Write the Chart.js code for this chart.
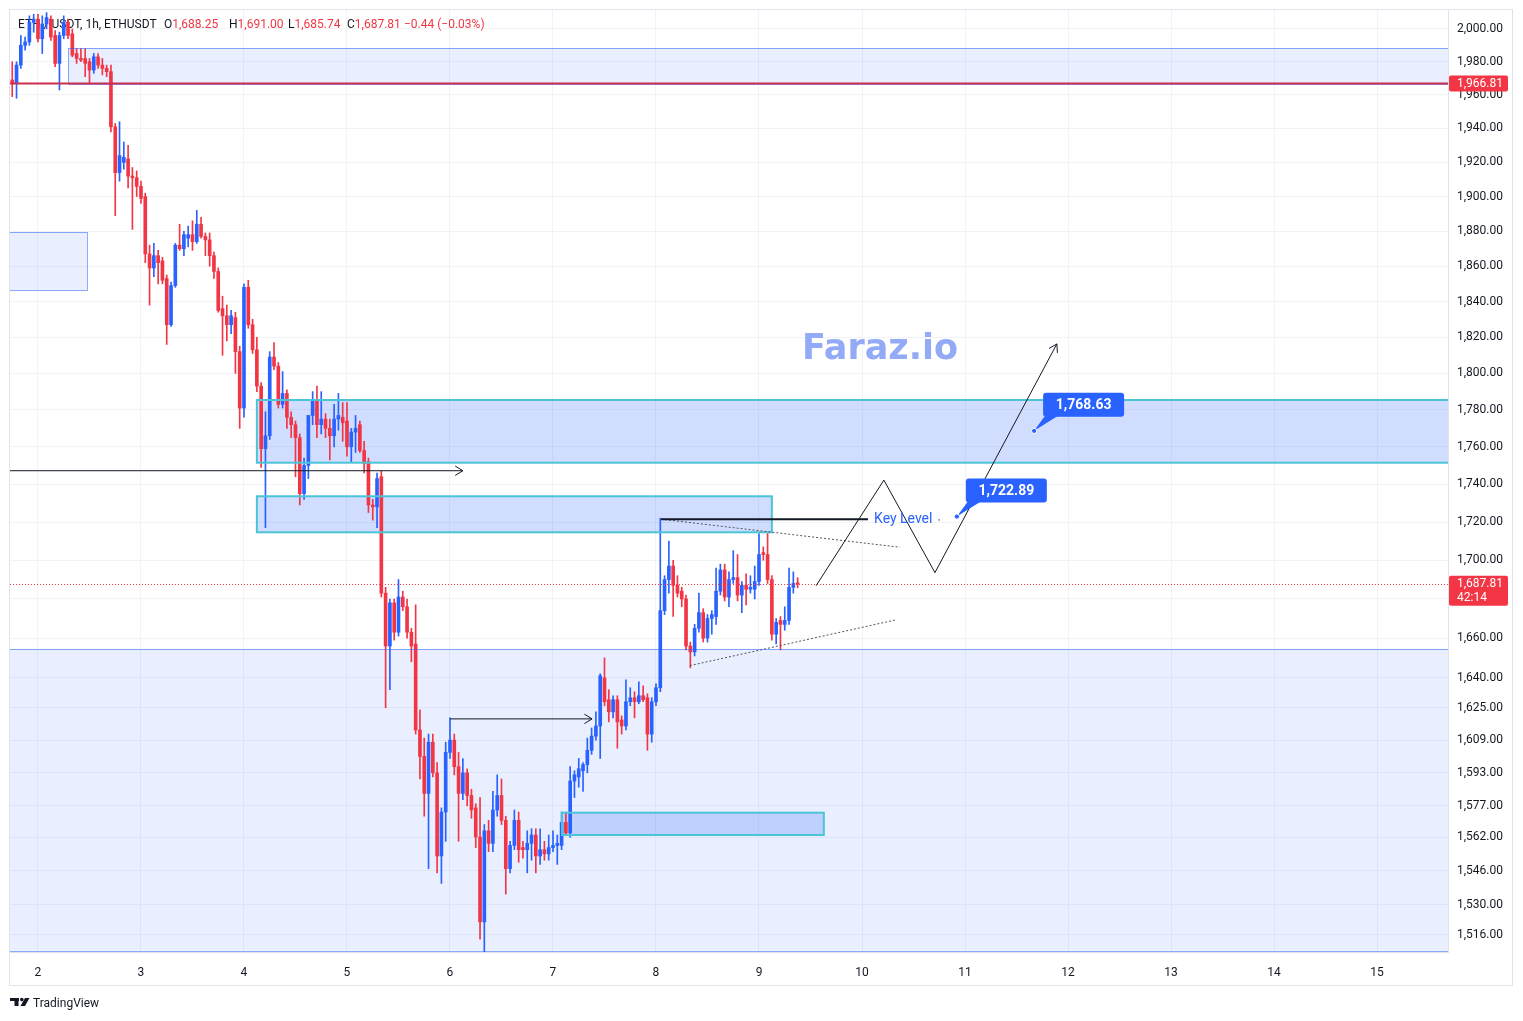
<!DOCTYPE html>
<html>
<head>
<meta charset="utf-8">
<title>ETHUSDT 1h</title>
<script src="https://cdn.jsdelivr.net/npm/chart.js@4.4.1/dist/chart.umd.min.js"></script>
<style>
  html, body { margin: 0; padding: 0; background: #ffffff; }
  canvas { display: block; }
</style>
</head>
<body>
<canvas id="graph" width="1523" height="1021"></canvas>
<script>
// ETH / USDT, 1h candles. Time is counted in hours from day 2, 00:00.
var firstHour = -6;

var openP = [
  1969, 1967, 1978, 1990, 1992, 2004,
  2006, 1994, 2003, 2006, 1996, 1979, 1996, 2004, 1997, 1985, 1982, 1982, 1980, 1975, 1983, 1978, 1976, 1974, 1941, 1914, 1920, 1922, 1912, 1911,
  1906, 1900, 1867, 1859, 1866, 1863, 1853, 1827, 1849, 1872, 1870, 1876, 1878, 1874, 1884, 1877, 1875, 1866, 1857, 1836, 1832, 1827, 1831, 1812,
  1781, 1848, 1827, 1813, 1793, 1759, 1766, 1809, 1804, 1783, 1789, 1776, 1772, 1765, 1735, 1750, 1777, 1785, 1772, 1775, 1770, 1766, 1775, 1776,
  1774, 1760, 1768, 1772, 1758, 1752, 1729, 1728, 1744, 1683, 1656, 1678, 1663, 1681, 1676, 1663, 1657, 1614, 1601, 1583, 1608, 1593, 1553, 1574,
  1603, 1609, 1596, 1583, 1593, 1582, 1576, 1562, 1522, 1565, 1559, 1575, 1582, 1570, 1547, 1558, 1570, 1557, 1556, 1559, 1563, 1553, 1556, 1554,
  1557, 1558, 1558, 1569, 1564, 1589, 1591, 1594, 1597, 1604, 1611, 1616, 1640, 1629, 1623, 1629, 1619, 1616, 1628, 1630, 1628, 1631, 1630, 1612,
  1628, 1635, 1674, 1690, 1697, 1687, 1684, 1680, 1656, 1653, 1665, 1673, 1660, 1670, 1671, 1684, 1695, 1681, 1690, 1691, 1682, 1687, 1685, 1685,
  1689, 1704, 1703, 1690, 1662, 1669, 1667, 1669, 1686, 1688.25
];
var highP = [
  1980, 1980, 1996, 1995, 2008, 2009,
  2009, 2008, 2010, 2008, 1999, 1998, 2008, 2006, 2000, 1988, 1988, 1988, 1982, 1985, 1985, 1982, 1978, 1978, 1943, 1944, 1932, 1930, 1917, 1915,
  1909, 1902, 1872, 1873, 1869, 1865, 1855, 1851, 1873, 1884, 1880, 1883, 1886, 1892, 1888, 1879, 1879, 1868, 1859, 1843, 1838, 1835, 1834, 1815,
  1850, 1852, 1830, 1820, 1795, 1779, 1812, 1817, 1806, 1801, 1791, 1779, 1774, 1767, 1754, 1777, 1790, 1793, 1790, 1778, 1775, 1783, 1789, 1784,
  1784, 1770, 1777, 1774, 1763, 1754, 1732, 1746, 1747, 1686, 1680, 1680, 1690, 1684, 1680, 1665, 1677, 1624, 1610, 1612, 1612, 1598, 1576, 1608,
  1620, 1612, 1603, 1600, 1595, 1585, 1578, 1581, 1568, 1570, 1584, 1592, 1590, 1572, 1560, 1575, 1574, 1560, 1565, 1566, 1566, 1566, 1560, 1563,
  1565, 1563, 1574, 1574, 1596, 1594, 1600, 1598, 1610, 1615, 1623, 1642, 1650, 1634, 1631, 1631, 1621, 1639, 1635, 1633, 1638, 1636, 1632, 1630,
  1637, 1722, 1692, 1710, 1700, 1692, 1686, 1682, 1658, 1667, 1683, 1675, 1672, 1674, 1696, 1698, 1698, 1694, 1705, 1703, 1689, 1693, 1692, 1697,
  1714, 1707, 1714, 1692, 1670, 1671, 1676, 1696, 1694, 1691
];
var lowP = [
  1959, 1958, 1976, 1987, 1990, 1998,
  1992, 1985, 2000, 1993, 1977, 1963, 1994, 1994, 1983, 1979, 1980, 1971, 1967, 1973, 1976, 1972, 1971, 1938, 1889, 1909, 1916, 1905, 1881, 1900,
  1896, 1862, 1838, 1854, 1850, 1850, 1816, 1826, 1848, 1869, 1866, 1871, 1869, 1873, 1876, 1866, 1860, 1853, 1834, 1810, 1818, 1822, 1800, 1770,
  1776, 1825, 1811, 1790, 1749, 1717, 1764, 1802, 1781, 1781, 1770, 1765, 1744, 1729, 1732, 1743, 1772, 1765, 1767, 1765, 1753, 1760, 1769, 1763,
  1755, 1752, 1757, 1757, 1746, 1725, 1721, 1717, 1681, 1625, 1634, 1659, 1661, 1674, 1660, 1648, 1612, 1590, 1572, 1547, 1591, 1545, 1540, 1560,
  1600, 1592, 1560, 1580, 1577, 1571, 1557, 1514, 1505, 1555, 1555, 1572, 1568, 1535, 1545, 1556, 1550, 1552, 1545, 1551, 1545, 1549, 1551, 1551,
  1555, 1549, 1556, 1563, 1562, 1581, 1586, 1584, 1593, 1602, 1609, 1600, 1626, 1618, 1620, 1605, 1612, 1614, 1626, 1620, 1627, 1628, 1604, 1608,
  1626, 1633, 1672, 1683, 1671, 1681, 1676, 1654, 1645, 1651, 1663, 1658, 1658, 1662, 1667, 1682, 1679, 1676, 1688, 1679, 1673, 1677, 1683, 1680,
  1687, 1700, 1688, 1659, 1657, 1654, 1664, 1667, 1683, 1685.74
];
var closeP = [
  1967, 1978, 1990, 1992, 2004, 2006,
  1994, 2003, 2007, 1995, 1979, 1996, 2004, 1996, 1984, 1982, 1981, 1979, 1975, 1983, 1978, 1976, 1974, 1941, 1914, 1924, 1923, 1912, 1911, 1906,
  1899, 1867, 1859, 1866, 1862, 1852, 1827, 1849, 1872, 1870, 1878, 1878, 1874, 1884, 1877, 1875, 1866, 1857, 1835, 1832, 1827, 1832, 1812, 1781,
  1848, 1827, 1813, 1793, 1759, 1766, 1809, 1804, 1783, 1789, 1776, 1772, 1765, 1735, 1750, 1777, 1785, 1772, 1775, 1770, 1766, 1775, 1777, 1773,
  1760, 1768, 1770, 1758, 1751, 1729, 1728, 1743, 1683, 1656, 1678, 1663, 1681, 1676, 1663, 1656, 1614, 1601, 1583, 1608, 1593, 1553, 1574, 1603,
  1609, 1596, 1583, 1593, 1582, 1575, 1562, 1522, 1565, 1559, 1575, 1582, 1570, 1547, 1558, 1570, 1556, 1556, 1559, 1563, 1553, 1556, 1554, 1557,
  1558, 1559, 1569, 1564, 1589, 1592, 1595, 1597, 1604, 1611, 1616, 1641, 1628, 1623, 1629, 1618, 1616, 1628, 1630, 1628, 1631, 1629, 1612, 1628,
  1635, 1674, 1690, 1697, 1687, 1683, 1680, 1656, 1653, 1665, 1673, 1660, 1670, 1672, 1684, 1695, 1681, 1690, 1691, 1682, 1687, 1685, 1686, 1689,
  1703, 1703, 1690, 1662, 1668, 1667, 1669, 1686, 1688, 1687.81
];

var dayTicks = [2, 3, 4, 5, 6, 7, 8, 9, 10, 11, 12, 13, 14, 15];
var priceTicks = [2000, 1980, 1960, 1940, 1920, 1900, 1880, 1860, 1840, 1820, 1800, 1780, 1760, 1740,
  1720, 1700, 1680, 1660, 1640, 1625, 1609, 1593, 1577, 1562, 1546, 1530, 1516];

// price levels shown on the price scale
var redLevel = 1966.81;
var lastPrice = 1687.81;
var countdown = '42:14';

// drawings, in (hour, price); null means the edge of the pane
var lightZones = [
  { t0: 7, t1: null, p0: 1966.8, p1: 1988.4 },
  { t0: null, t1: 11.4, p0: 1846.5, p1: 1879.4 },
  { t0: null, t1: null, p0: 1508.6, p1: 1654.5 }
];
var strongZones = [
  { t0: 51.0, t1: null, p0: 1751.5, p1: 1785.4 },
  { t0: 51.0, t1: 171.0, p0: 1714.6, p1: 1733.6 },
  { t0: 122.1, t1: 183.1, p0: 1563.0, p1: 1573.7 }
];
var arrowLeft = [[null, 1747.2], [99.0, 1747.2]];
var arrowLow = [[96.0, 1619.5], [129.1, 1619.5]];
var keyLevel = [[145.2, 1721.5], [193.4, 1721.5]];
var trendUpper = [[145.2, 1721.5], [200.8, 1706.8]];
var trendLower = [[151.9, 1646.1], [200.1, 1669.4]];
var projection = [[181.3, 1686.8], [197.1, 1742.2], [209.0, 1693.6], [237.4, 1816.3]];
var keyLabel = { t: 194.8, p: 1721.5, text: 'Key Level' };
var callouts = [
  { t: 214.1, p: 1722.89, text: '1,722.89' },
  { t: 232.1, p: 1768.63, text: '1,768.63' }
];
var watermark = { t: 196.2, p: 1813.0, text: 'Faraz.io' };

var X_MIN = -6.52, X_MAX = 328.54;
var Y_MIN = 1508.05, Y_MAX = 2011.6;

var UP = '#2962ff', DOWN = '#f23645';
var TEXT = '#131722', GRID = '#f2f3f6', EDGE = '#e0e3eb';
var FONT = 'Roboto, "Noto Sans", sans-serif';

var hours = openP.map(function (_, i) { return firstHour + i; });

function candleColor(ctx) {
    var i = ctx.dataIndex;
    return closeP[i] >= openP[i] ? UP : DOWN;
}

function money(v) {
    return v.toLocaleString('en-US', { minimumFractionDigits: 2, maximumFractionDigits: 2 });
}

function px(chart, t) { return chart.scales.x.getPixelForValue(t); }
function py(chart, p) { return chart.scales.y.getPixelForValue(p); }

function zoneRect(chart, z) {
    var a = chart.chartArea;
    var x0 = z.t0 === null ? a.left - 5 : px(chart, z.t0);
    var x1 = z.t1 === null ? a.right + 5 : px(chart, z.t1);
    var y0 = py(chart, z.p1), y1 = py(chart, z.p0);
    return [x0, y0, x1 - x0, y1 - y0];
}

function toPixels(chart, pts) {
    var a = chart.chartArea;
    return pts.map(function (p) {
        return [p[0] === null ? a.left : px(chart, p[0]), py(chart, p[1])];
    });
}

function polyline(ctx, pts) {
    ctx.beginPath();
    ctx.moveTo(pts[0][0], pts[0][1]);
    for (var i = 1; i < pts.length; i++) ctx.lineTo(pts[i][0], pts[i][1]);
    ctx.stroke();
}

function arrowHead(ctx, from, to) {
    var ang = Math.atan2(to[1] - from[1], to[0] - from[0]);
    var len = 9, spread = 0.55;
    ctx.beginPath();
    ctx.moveTo(to[0] - len * Math.cos(ang - spread), to[1] - len * Math.sin(ang - spread));
    ctx.lineTo(to[0], to[1]);
    ctx.lineTo(to[0] - len * Math.cos(ang + spread), to[1] - len * Math.sin(ang + spread));
    ctx.stroke();
}

function roundBox(ctx, x, y, w, h, r) {
    ctx.beginPath();
    ctx.moveTo(x + r, y);
    ctx.lineTo(x + w - r, y);
    ctx.quadraticCurveTo(x + w, y, x + w, y + r);
    ctx.lineTo(x + w, y + h - r);
    ctx.quadraticCurveTo(x + w, y + h, x + w - r, y + h);
    ctx.lineTo(x + r, y + h);
    ctx.quadraticCurveTo(x, y + h, x, y + h - r);
    ctx.lineTo(x, y + r);
    ctx.quadraticCurveTo(x, y, x + r, y);
    ctx.closePath();
}

var drawings = {
    id: 'drawings',
    beforeDatasetsDraw: function (chart) {
        var ctx = chart.ctx, a = chart.chartArea;
        ctx.save();
        ctx.beginPath();
        ctx.rect(a.left, a.top, a.width, a.height);
        ctx.clip();

        ctx.fillStyle = 'rgba(41, 98, 255, 0.1)';
        lightZones.forEach(function (z) {
            var r = zoneRect(chart, z);
            ctx.fillRect(r[0], r[1], r[2], r[3]);
        });
        ctx.fillStyle = 'rgba(41, 98, 255, 0.22)';
        strongZones.forEach(function (z) {
            var r = zoneRect(chart, z);
            ctx.fillRect(r[0], r[1], r[2], r[3]);
        });

        // watermark text
        ctx.fillStyle = '#93abf6';
        ctx.font = 'bold 35px "DejaVu Sans", sans-serif';
        ctx.textAlign = 'center';
        ctx.textBaseline = 'middle';
        ctx.fillText(watermark.text, px(chart, watermark.t), py(chart, watermark.p));

        // symbol legend
        ctx.font = '12px ' + FONT;
        ctx.textAlign = 'left';
        ctx.fillStyle = TEXT;
        var ly = a.top + 15;
        ctx.fillText('ETH / USDT, 1h, ETHUSDT', a.left + 8, ly);
        var ohlc = [['O', '1,688.25', 154], ['H', '1,691.00', 219], ['L', '1,685.74', 278], ['C', '1,687.81', 337]];
        ohlc.forEach(function (g) {
            ctx.fillStyle = TEXT;
            ctx.fillText(g[0], a.left + g[2], ly);
            var w = ctx.measureText(g[0]).width;
            ctx.fillStyle = DOWN;
            ctx.fillText(g[1], a.left + g[2] + w, ly);
        });
        ctx.fillStyle = DOWN;
        ctx.fillText('\u22120.44 (\u22120.03%)', a.left + 394, ly);
        ctx.restore();
    },
    afterDatasetsDraw: function (chart) {
        var ctx = chart.ctx, a = chart.chartArea;
        ctx.save();
        ctx.beginPath();
        ctx.rect(a.left, a.top, a.width, a.height);
        ctx.clip();

        // zone borders
        ctx.strokeStyle = 'rgba(41, 98, 255, 0.55)';
        ctx.lineWidth = 1;
        lightZones.forEach(function (z) {
            var r = zoneRect(chart, z);
            ctx.strokeRect(Math.round(r[0]) + 0.5, Math.round(r[1]) + 0.5, Math.round(r[2]), Math.round(r[3]));
        });
        ctx.strokeStyle = '#4cc4d8';
        ctx.lineWidth = 2;
        strongZones.forEach(function (z) {
            var r = zoneRect(chart, z);
            ctx.strokeRect(r[0], r[1], r[2], r[3]);
        });

        // red horizontal level
        ctx.strokeStyle = '#cc2f4f';
        ctx.lineWidth = 2;
        var yr = py(chart, redLevel);
        polyline(ctx, [[a.left, yr], [a.right, yr]]);

        // last price line
        ctx.strokeStyle = DOWN;
        ctx.lineWidth = 1;
        ctx.setLineDash([1, 2]);
        var yl = Math.round(py(chart, lastPrice)) + 0.5;
        polyline(ctx, [[a.left, yl], [a.right, yl]]);

        // dotted triangle lines
        ctx.strokeStyle = '#50535e';
        ctx.setLineDash([2, 2]);
        polyline(ctx, toPixels(chart, trendUpper));
        polyline(ctx, toPixels(chart, trendLower));
        ctx.setLineDash([]);

        // arrows
        ctx.strokeStyle = TEXT;
        ctx.lineWidth = 1;
        [arrowLeft, arrowLow, projection].forEach(function (line) {
            var pts = toPixels(chart, line);
            polyline(ctx, pts);
            arrowHead(ctx, pts[pts.length - 2], pts[pts.length - 1]);
        });

        // key level
        ctx.lineWidth = 2;
        polyline(ctx, toPixels(chart, keyLevel));
        ctx.font = '14px ' + FONT;
        ctx.fillStyle = UP;
        ctx.textAlign = 'left';
        ctx.textBaseline = 'middle';
        var kx = px(chart, keyLabel.t), ky = py(chart, keyLabel.p);
        ctx.fillText(keyLabel.text, kx, ky);
        ctx.fillStyle = '#787b86';
        ctx.fillRect(kx + ctx.measureText(keyLabel.text).width + 6, ky, 1.5, 1.5);

        // price callouts
        callouts.forEach(function (c) {
            var ax = px(chart, c.t), ay = py(chart, c.p);
            var bx = ax + 9, by = ay - 38, w = 81, h = 24;
            ctx.fillStyle = UP;
            roundBox(ctx, bx, by, w, h, 3);
            ctx.fill();
            ctx.beginPath();
            ctx.moveTo(ax, ay);
            ctx.lineTo(bx + 2, by + h - 1);
            ctx.lineTo(bx + 15, by + h - 1);
            ctx.closePath();
            ctx.fill();
            ctx.beginPath();
            ctx.arc(ax, ay, 2.6, 0, Math.PI * 2);
            ctx.fill();
            ctx.strokeStyle = '#ffffff';
            ctx.lineWidth = 1;
            ctx.stroke();
            ctx.fillStyle = '#ffffff';
            ctx.font = 'bold 14px ' + FONT;
            ctx.textAlign = 'center';
            ctx.fillText(c.text, bx + w / 2, by + h / 2 + 1);
        });
        ctx.restore();
    },
    afterDraw: function (chart) {
        var ctx = chart.ctx, a = chart.chartArea;
        ctx.save();
        // tags on the price scale
        ctx.font = '12px ' + FONT;
        ctx.textAlign = 'left';
        ctx.textBaseline = 'middle';
        var tags = [[redLevel, [money(redLevel)]], [lastPrice, [money(lastPrice), countdown]]];
        tags.forEach(function (tg) {
            var y = py(chart, tg[0]);
            var h = tg[1].length > 1 ? 30 : 16;
            ctx.fillStyle = DOWN;
            roundBox(ctx, a.right + 1, y - 8, 59, h, 2);
            ctx.fill();
            ctx.fillStyle = '#ffffff';
            tg[1].forEach(function (s, k) {
                ctx.fillText(s, a.right + 9, y + k * 14);
            });
        });

        // outer frame
        ctx.strokeStyle = EDGE;
        ctx.lineWidth = 1;
        ctx.strokeRect(a.left - 0.5, a.top - 0.5, 1503, 976);

        // TradingView logo
        ctx.fillStyle = TEXT;
        ctx.fillRect(10, 998, 9, 3);
        ctx.fillRect(14.5, 998, 4, 8);
        ctx.beginPath();
        ctx.arc(21.8, 999.6, 1.8, 0, Math.PI * 2);
        ctx.fill();
        ctx.beginPath();
        ctx.moveTo(25, 998);
        ctx.lineTo(29.5, 998);
        ctx.lineTo(25, 1006);
        ctx.lineTo(20.5, 1006);
        ctx.closePath();
        ctx.fill();
        ctx.font = '12px ' + FONT;
        ctx.textBaseline = 'alphabetic';
        ctx.fillText('TradingView', 33, 1007);
        ctx.restore();
    }
};

function noEdgePadding(s) {
    s.paddingTop = 0;
    s.paddingBottom = 0;
    s.paddingLeft = 0;
    s.paddingRight = 0;
}

function drawGraph() {
    var graphElement = document.getElementById('graph');

    new Chart(graphElement, {
        type: 'bar',
        data: {
            datasets: [{
                label: 'wick',
                data: hours.map(function (t, i) { return { x: t, y: [lowP[i], highP[i]] }; }),
                backgroundColor: candleColor,
                barThickness: 1,
                grouped: false
            }, {
                label: 'body',
                data: hours.map(function (t, i) { return { x: t, y: [openP[i], closeP[i]] }; }),
                backgroundColor: candleColor,
                barThickness: 3,
                minBarLength: 1,
                grouped: false
            }]
        },
        options: {
            responsive: false,
            devicePixelRatio: 1,
            animation: false,
            events: [],
            layout: { padding: { left: 10, top: 10, right: 11, bottom: 36 } },
            plugins: {
                legend: { display: false },
                tooltip: { enabled: false }
            },
            scales: {
                x: {
                    type: 'linear',
                    min: X_MIN,
                    max: X_MAX,
                    bounds: 'data',
                    offset: false,
                    grid: { color: GRID, drawTicks: false, offset: false },
                    border: { color: EDGE },
                    ticks: {
                        color: TEXT,
                        font: { family: FONT, size: 12 },
                        padding: 14,
                        autoSkip: false,
                        maxRotation: 0,
                        callback: function (v) { return String(v / 24 + 2); }
                    },
                    afterBuildTicks: function (s) {
                        s.ticks = dayTicks.map(function (d) { return { value: (d - 2) * 24 }; });
                    },
                    afterFit: function (s) { s.height = 33; noEdgePadding(s); }
                },
                y: {
                    type: 'logarithmic',
                    position: 'right',
                    min: Y_MIN,
                    max: Y_MAX,
                    bounds: 'data',
                    beginAtZero: false,
                    grid: { color: GRID, drawTicks: false },
                    border: { color: EDGE },
                    ticks: {
                        color: TEXT,
                        font: { family: FONT, size: 12 },
                        padding: 9,
                        autoSkip: false,
                        callback: function (v) { return money(v); }
                    },
                    afterBuildTicks: function (s) {
                        s.ticks = priceTicks.map(function (v) { return { value: v }; });
                    },
                    afterFit: function (s) { s.width = 64; noEdgePadding(s); }
                }
            }
        },
        plugins: [drawings]
    });
}

window.onload = drawGraph;
</script>
</body>
</html>
